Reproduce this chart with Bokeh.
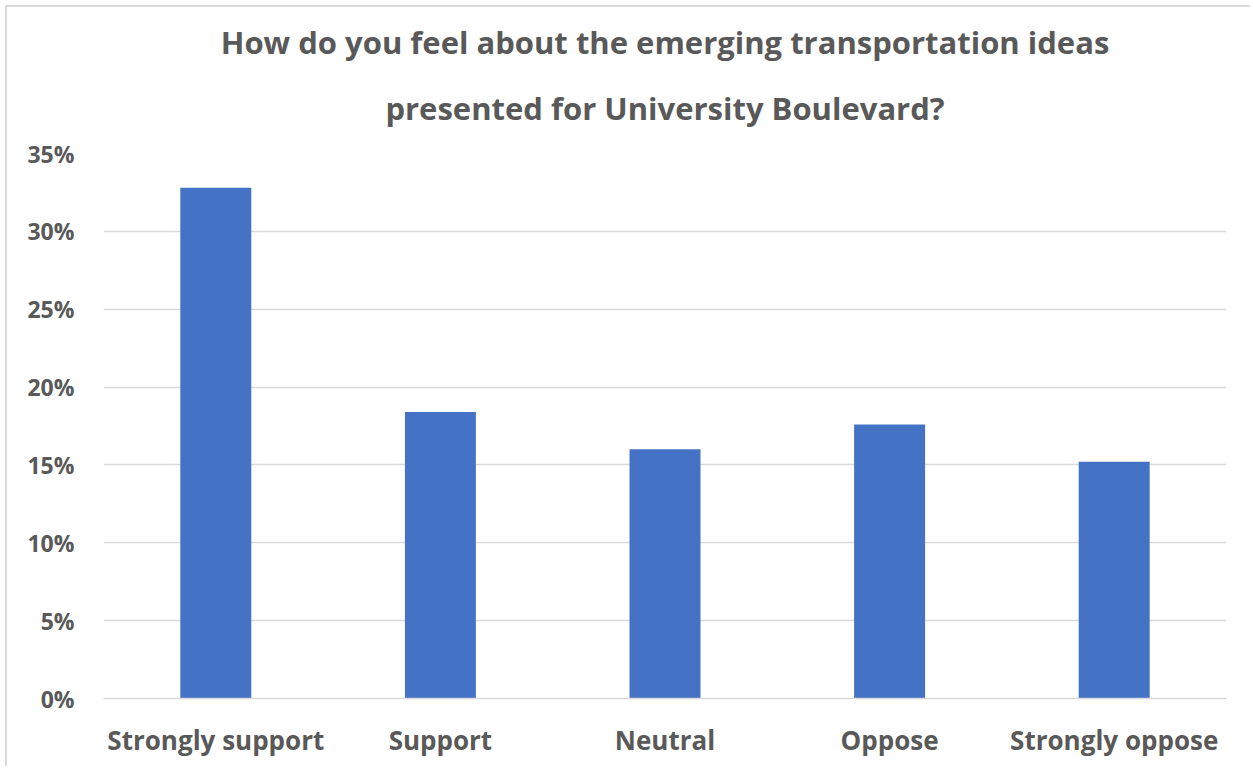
from bokeh.plotting import figure
from bokeh.models import Range1d, NumeralTickFormatter, Title, FixedTicker
from bokeh.embed import file_html
from bokeh.resources import INLINE

categories = ["Strongly support", "Support", "Neutral", "Oppose", "Strongly oppose"]
values = [0.328, 0.184, 0.160, 0.176, 0.152]
y_ticks = [0, 0.05, 0.10, 0.15, 0.20, 0.25, 0.30, 0.35]
title_line1 = "How do you feel about the emerging transportation ideas"
title_line2 = "presented for University Boulevard?"

GRAY = "#595959"
FONT = "Open Sans"

p = figure(
    x_range=categories,
    y_range=Range1d(0, 0.35),
    width=1245, height=761,
    output_backend="svg",
    toolbar_location=None,
    min_border_left=96, min_border_right=26,
    min_border_top=146, min_border_bottom=70,
    margin=(5, 0, 0, 5),
)
p.styles = {"border-left": "2px solid #d9d9d9", "border-top": "2px solid #d9d9d9"}
p.x_range.range_padding = 0

p.vbar(x=categories, top=values, width=0.316, color="#4472C4", line_color=None)

p.outline_line_color = None
p.xgrid.grid_line_color = None
p.ygrid.grid_line_color = "#d9d9d9"
p.ygrid.grid_line_width = 1.5
p.yaxis.ticker = FixedTicker(ticks=y_ticks)
p.yaxis.formatter = NumeralTickFormatter(format="0%")

for ax in (p.xaxis, p.yaxis):
    ax.axis_line_color = None
    ax.major_tick_line_color = None
    ax.minor_tick_line_color = None
    ax.major_label_text_font = FONT
    ax.major_label_text_font_style = "bold"
    ax.major_label_text_color = GRAY
p.yaxis.major_label_text_font_size = "23px"
p.xaxis.major_label_text_font_size = "26px"
p.xaxis.axis_line_color = "#d9d9d9"
p.xaxis.axis_line_width = 1.5
p.xaxis.major_label_standoff = 17
p.yaxis.major_label_standoff = 23

t2 = Title(text=title_line2, align="center", text_font=FONT, text_font_style="bold",
           text_font_size="31px", text_color=GRAY, standoff=50)
t1 = Title(text=title_line1, align="center", text_font=FONT, text_font_style="bold",
           text_font_size="31px", text_color=GRAY, standoff=-6)
p.add_layout(t2, "above")
p.add_layout(t1, "above")

open("out.html", "w").write(file_html(p, INLINE))
